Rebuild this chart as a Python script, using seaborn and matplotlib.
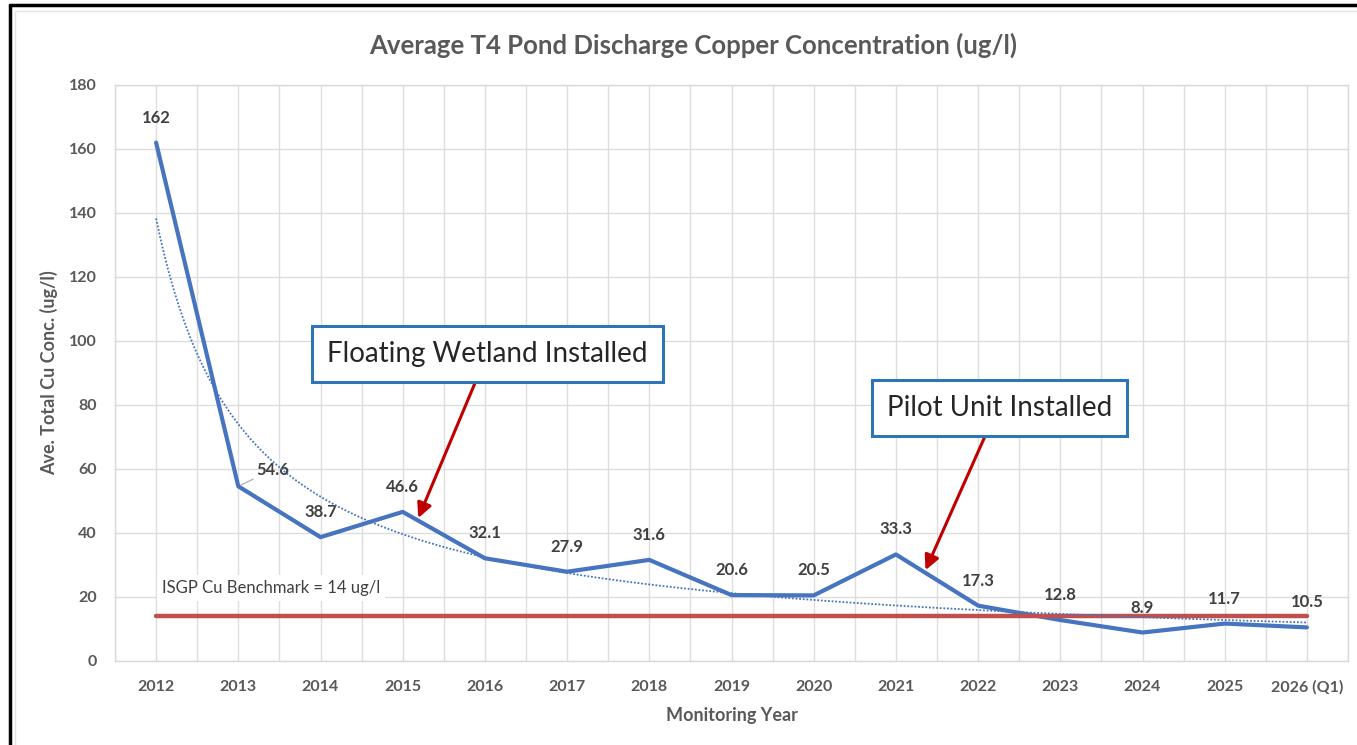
import numpy as np
import pandas as pd
import matplotlib.pyplot as plt
import seaborn as sns
from matplotlib.lines import Line2D

# === Data ===
years = ["2012", "2013", "2014", "2015", "2016", "2017", "2018", "2019",
         "2020", "2021", "2022", "2023", "2024", "2025", "2026 (Q1)"]
cu_conc = [162, 54.6, 38.7, 46.6, 32.1, 27.9, 31.6, 20.6, 20.5, 33.3,
           17.3, 12.8, 8.9, 11.7, 10.5]
benchmark = 14

df = pd.DataFrame({"Year": years, "Cu": cu_conc})
df["pos"] = np.arange(len(df))
df["Benchmark"] = benchmark

# Excel style power trendline fitted on the data
b, ln_a = np.polyfit(np.log(df["pos"] + 1), np.log(df["Cu"]), 1)
tx = np.linspace(0, len(df) - 1, 300)
trend = pd.DataFrame({"pos": tx, "Cu": np.exp(ln_a) * (tx + 1) ** b})

# === Style ===
sns.set_theme(style="whitegrid")
plt.rcParams["font.family"] = ["Lato", "DejaVu Sans"]
gray = "#595959"
dark = "#404040"
blue = "#4674BE"

fig = plt.figure(figsize=(13.57, 7.45), dpi=100)
ax = fig.add_axes([115 / 1357, 84 / 745, 1233 / 1357, 576 / 745])

sns.lineplot(data=df, x="pos", y="Cu", ax=ax, color=blue, lw=3.0, zorder=3)
sns.lineplot(data=df, x="pos", y="Benchmark", ax=ax, color="#C0504D", lw=3.2, zorder=4)
sns.lineplot(data=trend, x="pos", y="Cu", ax=ax, color=blue, lw=1.3,
             linestyle=(0, (1, 1.0)), zorder=5)

# axes / grid
ax.set_xlim(-0.5, len(df) - 0.5)
ax.set_ylim(0, 180)
ax.set_yticks(range(0, 181, 20))
ax.set_xticks(df["pos"])
ax.set_xticklabels(years)
ax.set_xticks(np.arange(-0.5, len(df), 1), minor=True)
ax.grid(True, which="both", color="#DDDDDD", lw=1.0)
ax.set_axisbelow(True)
for s in ax.spines.values():
    s.set_color("#D9D9D9")
    s.set_linewidth(1.0)
ax.tick_params(axis="both", which="both", length=0, labelsize=11.5, labelcolor=gray)
ax.tick_params(axis="x", pad=14)
ax.tick_params(axis="y", pad=13)
for lab in ax.get_xticklabels() + ax.get_yticklabels():
    lab.set_fontweight("bold")

ax.set_xlabel("Monitoring Year", fontsize=13, color=gray, weight="bold", labelpad=9)
ax.set_ylabel("Ave. Total Cu Conc. (ug/l)", fontsize=13, color=gray, weight="bold", labelpad=8)

fig.text(693 / 1357, 1 - 45 / 745, "Average T4 Pond Discharge Copper Concentration (ug/l)",
         ha="center", va="center", fontsize=18.5, weight="bold", color=gray)

# data labels
for i, row in df.iterrows():
    if row["Year"] == "2013":
        ax.annotate(f"{row['Cu']:g}", (row["pos"], row["Cu"]), xytext=(25, 12),
                    textcoords="offset points", ha="center", va="center",
                    fontsize=12, weight="bold", color=dark,
                    arrowprops=dict(arrowstyle="-", color="#A6A6A6", lw=0.8,
                                    shrinkA=13, shrinkB=2))
    else:
        ax.annotate(f"{row['Cu']:g}", (row["pos"], row["Cu"]), xytext=(0, 18),
                    textcoords="offset points", ha="center", va="center",
                    fontsize=12, weight="bold", color=dark)

# benchmark label
ax.text(0.07, 22.8, "ISGP Cu Benchmark = 14 ug/l", ha="left", va="center",
        fontsize=12, color=dark,
        bbox=dict(boxstyle="square,pad=0.3", fc="white", ec="none"))

# event call-outs
box = dict(boxstyle="square,pad=0.55", fc="white", ec="#2E75B6", lw=2.2)
arrow = dict(arrowstyle="-|>", color="#C00000", lw=2.2, mutation_scale=22,
             shrinkA=0, shrinkB=0)
ax.annotate("", xy=(3.19, 44.7), xytext=(3.88, 86.9), arrowprops=arrow, zorder=6)
ax.text(4.03, 96, "Floating Wetland Installed", ha="center", va="center",
        fontsize=20, color="#262626", bbox=box, zorder=7)
ax.annotate("", xy=(9.36, 28.4), xytext=(10.08, 70), arrowprops=arrow, zorder=6)
ax.text(10.26, 79, "Pilot Unit Installed", ha="center", va="center",
        fontsize=20, color="#262626", bbox=box, zorder=7)

# outer frame of the screenshot
fig.add_artist(Line2D([10 / 1357, 10 / 1357], [0, 1 - 5 / 745],
                      transform=fig.transFigure, color="black", lw=2.5))
fig.add_artist(Line2D([10 / 1357, 1], [1 - 5 / 745, 1 - 5 / 745],
                      transform=fig.transFigure, color="black", lw=2.5))
fig.add_artist(Line2D([15 / 1357, 1], [1 - 11 / 745, 1 - 11 / 745],
                      transform=fig.transFigure, color="#E3E3E3", lw=1.0))
fig.add_artist(Line2D([15 / 1357, 15 / 1357], [0, 1 - 11 / 745],
                      transform=fig.transFigure, color="#E3E3E3", lw=1.0))

fig.savefig("out.png", dpi=100)
